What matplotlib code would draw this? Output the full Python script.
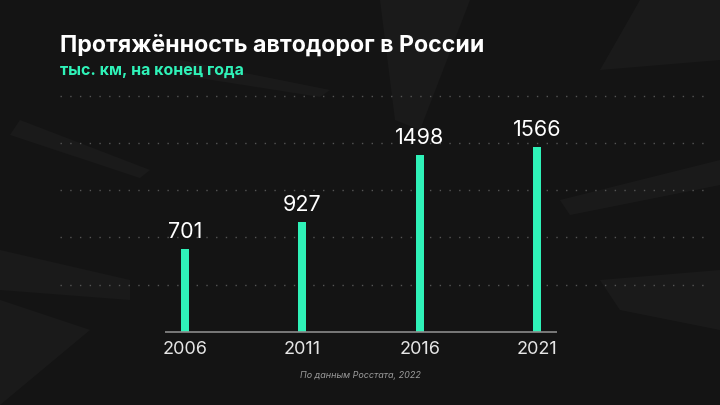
import matplotlib
matplotlib.use("Agg")
import matplotlib.pyplot as plt
import numpy as np

years = ["2006", "2011", "2016", "2021"]
lengths = [701, 927, 1498, 1566]
grid_levels = [400, 800, 1200, 1600, 2000]

title = "Протяжённость автодорог в России"
subtitle = "тыс. км, на конец года"
source = "По данным Росстата, 2022"

BG = "#141414"
MINT = "#2ff2b8"

plt.rcParams['font.family'] = ['Inter', 'DejaVu Sans']

fig = plt.figure(figsize=(7.2, 4.05), dpi=100)
fig.patch.set_facecolor(BG)

# decorative background streaks
bg = fig.add_axes([0, 0, 1, 1])
bg.set_xlim(0, 720)
bg.set_ylim(405, 0)
bg.axis('off')
streaks = [
    [(380, 0), (470, 0), (420, 130), (395, 120)],
    [(640, 0), (720, 0), (720, 60), (600, 70)],
    [(560, 200), (720, 160), (720, 185), (570, 215)],
    [(0, 250), (130, 280), (130, 300), (0, 290)],
    [(0, 300), (90, 330), (0, 405)],
    [(600, 280), (720, 270), (720, 330), (620, 310)],
    [(20, 120), (150, 170), (140, 178), (10, 135)],
    [(180, 60), (330, 90), (320, 97), (180, 75)],
]
for s in streaks:
    bg.add_patch(plt.Polygon(s, closed=True, color="#1a1a1a", lw=0))

ax = fig.add_axes([0, 0, 1, 1])
ax.set_facecolor('none')
x = np.arange(len(years))
px = 117.4
ax.set_xlim((0 - 185) / px, (720 - 185) / px)
ax.set_ylim(-(405 - 331.7) / 0.118, 331.7 / 0.118)
ax.axis('off')

for g in grid_levels:
    ax.hlines(g, (60 - 185) / px, (710 - 185) / px, colors="#555555",
              linestyles=(0, (1, 6)), lw=1.0, zorder=1)
ax.hlines(0, -0.17, 3.17, colors="#8a8a8a", lw=1.2, zorder=3)

ax.bar(x, lengths, width=8 / px, color=MINT, zorder=2)
for xi, v in zip(x, lengths):
    ax.text(xi, v + 60, str(v), ha='center', va='bottom', color='white',
            fontsize=15.5)
for xi, y in zip(x, years):
    ax.text(xi, -75, y, ha='center', va='top', color='#e6e6e6', fontsize=13)

fig.text(60 / 720, 1 - 46 / 405, title, ha='left', va='center',
         color='white', fontsize=16.7, fontweight='bold')
fig.text(60 / 720, 1 - 70 / 405, subtitle, ha='left', va='center',
         color=MINT, fontsize=11.5, fontweight='bold')
fig.text(360 / 720, 1 - 375 / 405, source, ha='center', va='center',
         color='#9a9a9a', fontsize=6.5, style='italic')

fig.savefig("out.png", dpi=100, facecolor=BG)
